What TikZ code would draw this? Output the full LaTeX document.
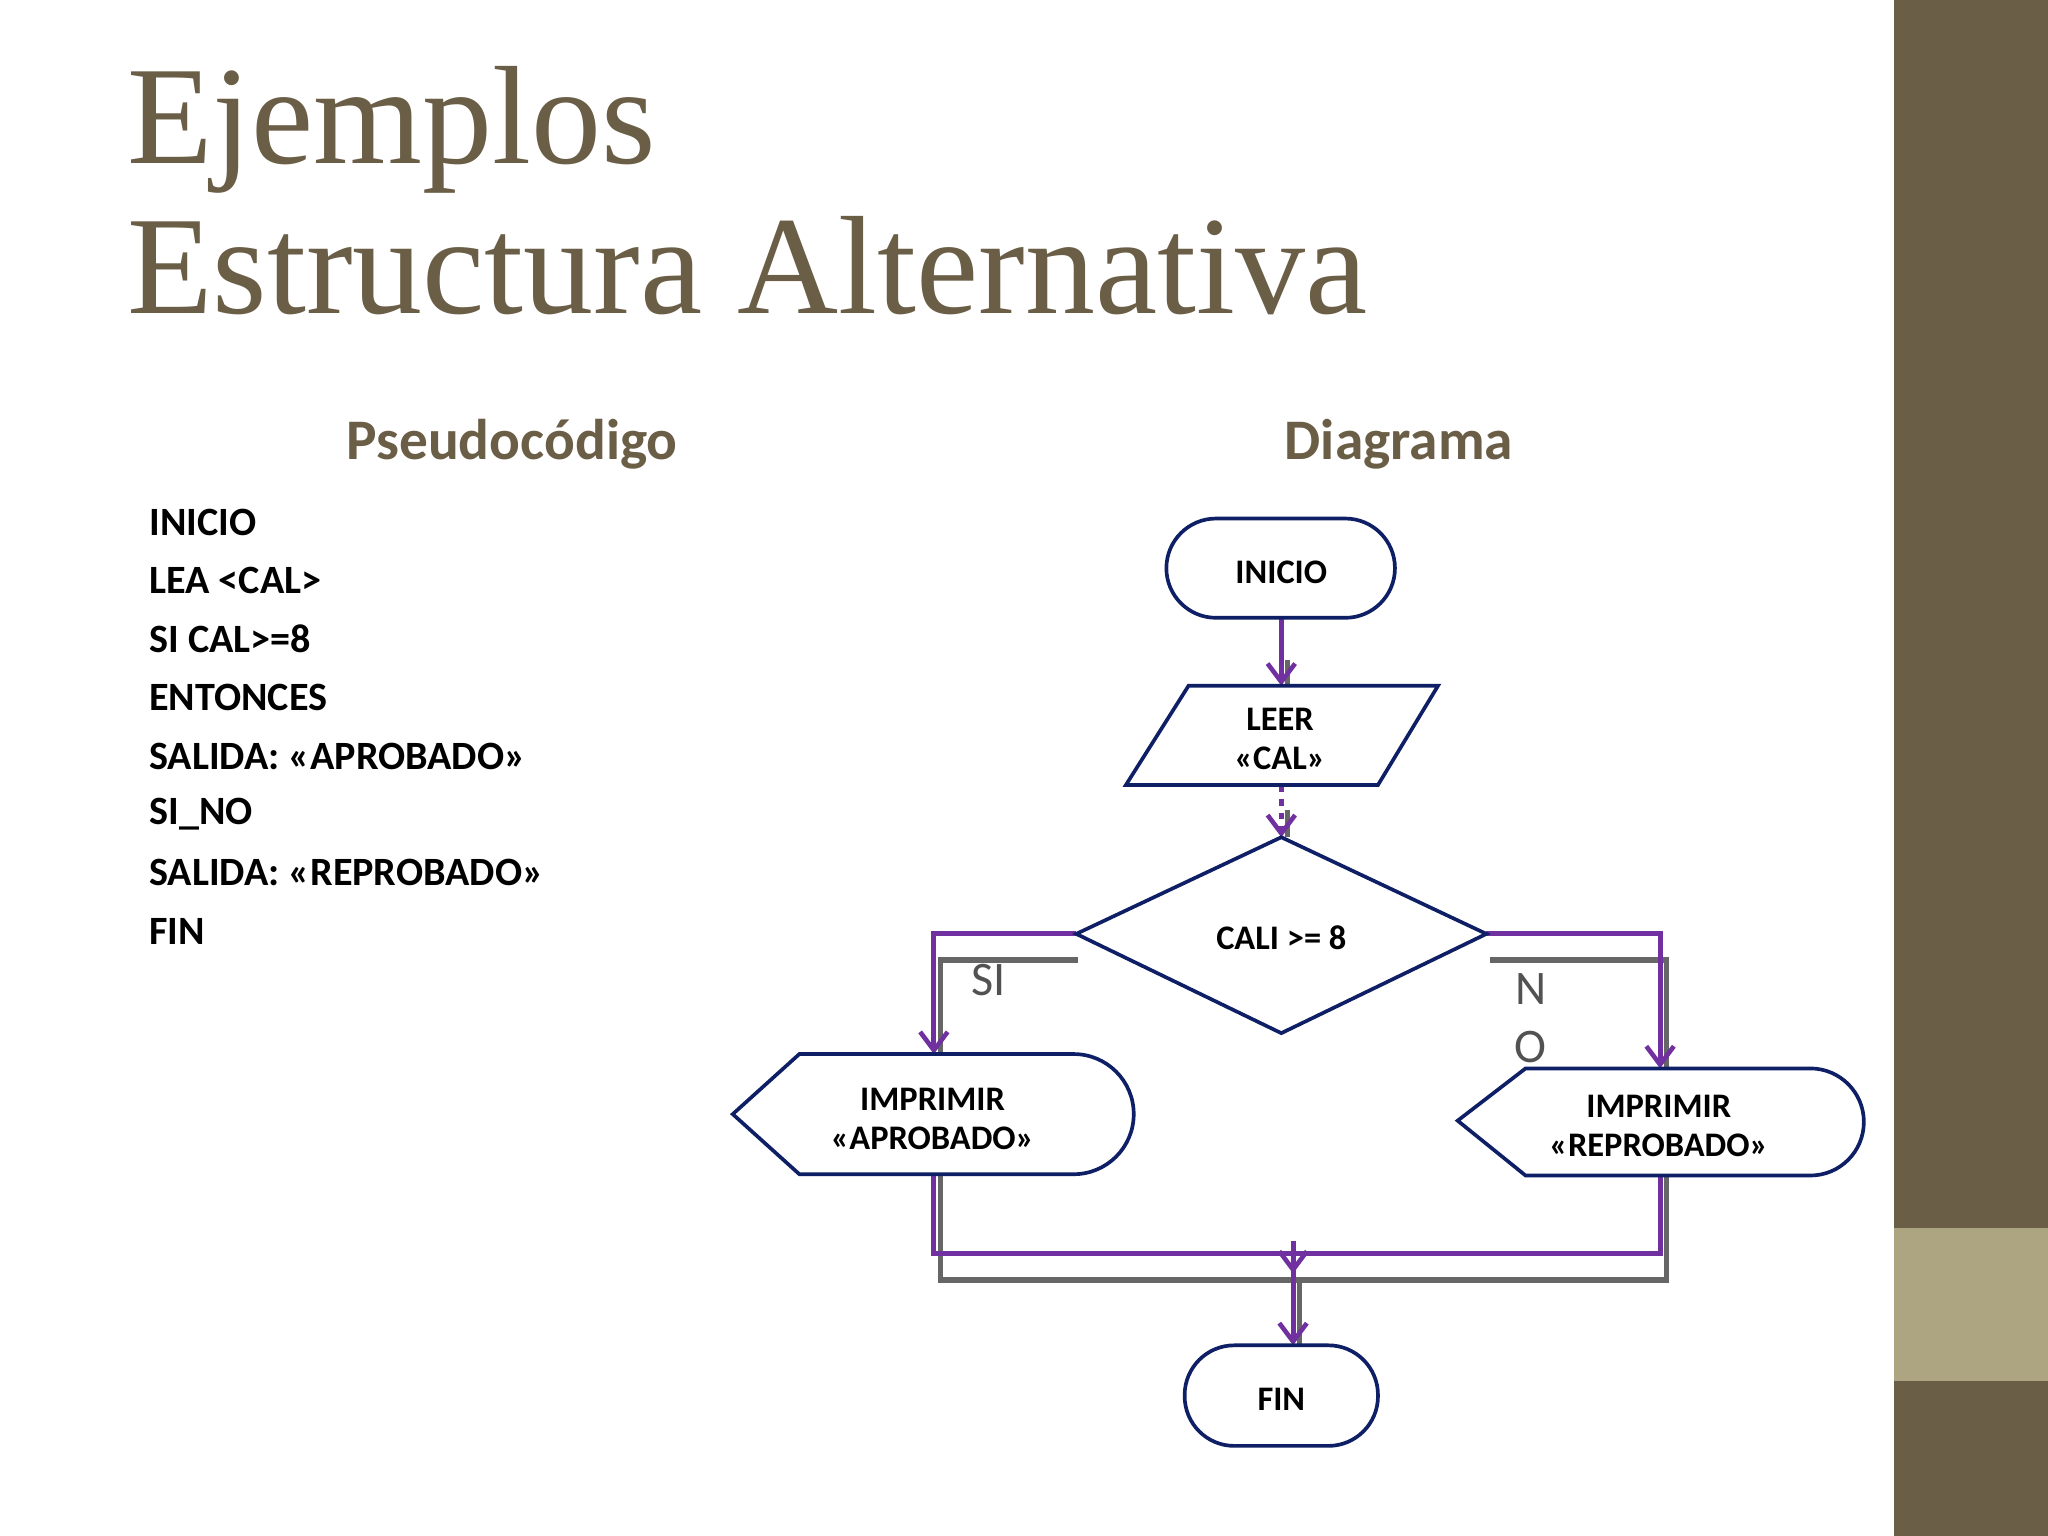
\documentclass[tikz,border=0pt]{standalone}
\usepackage{fontspec}
\setmainfont{Carlito}
\newfontfamily\titlefont{Liberation Serif}
\usetikzlibrary{arrows.meta}
\definecolor{brn}{HTML}{6B5E47}
\definecolor{brnl}{HTML}{ADA582}
\definecolor{pur}{HTML}{7030A0}
\definecolor{nav}{HTML}{0F1F66}
\definecolor{gry}{HTML}{666666}
\tikzset{
  shp/.style={draw=nav,line width=1.6pt,fill=white},
  ntext/.style={font=\fontsize{15}{17}\selectfont\bfseries,align=center,text=black},
  pc/.style={anchor=west,font=\fontsize{17.5}{19}\selectfont\bfseries},
  head/.style={font=\fontsize{25}{28}\selectfont\bfseries,text=brn},
  pl/.style={draw=pur,line width=2.2pt},
  gl/.style={draw=gry,line width=2.2pt},
  parr/.style={pl,-{Straight Barb[length=8pt,width=12pt,line width=2pt]}},
}
\begin{document}
\begin{tikzpicture}[x=0.02cm,y=-0.02cm]
\useasboundingbox (0,0) rectangle (1568,1176);
\fill[white] (0,0) rectangle (1568,1176);
\fill[brn] (1450,0) rectangle (1568,1176);
\fill[brnl] (1450,940) rectangle (1568,1057);
% title
\node[anchor=base west,font=\titlefont\fontsize{61}{66}\selectfont,text=brn,inner xsep=0pt] (t1) at (97,125) {Ejemplos};
\node[anchor=base west,font=\titlefont\fontsize{61}{66}\selectfont,text=brn,inner xsep=0pt] (t2) at (97,240) {Estructura Alternativa};
\node[head] (h1) at (392,340) {Pseudocódigo};
\node[head] (h2) at (1071,340) {Diagrama};
\foreach \t [count=\i from 0] in {INICIO,LEA <CAL>,SI CAL>=8,ENTONCES,SALIDA: «APROBADO»,SI\_NO,SALIDA: «REPROBADO»,FIN}
  \node[pc,inner xsep=0pt] (p\i) at (114,400+44.7*\i) {\t};
% connectors (shadow then purple)
\coordinate (a1) at (981,473); \coordinate (a2) at (981,525);
\coordinate (b1) at (981,601); \coordinate (b2) at (981,641);
\draw[gl] (986,505) -- (986,525);
\draw[parr] (a1) -- (a2);
\draw[gl] (986,620) -- (986,641);
\draw[parr,dashed] (b1) -- (b2);
\coordinate (dl) at (824,715); \coordinate (dr) at (1138,715);
\coordinate (ap) at (715,807); \coordinate (rp) at (1271,818);
\draw[gl] (825,735) -- (720,735) -- (720,807);
\draw[gl] (1141,735) -- (1276,735) -- (1276,818);
\draw[parr] (dl) -- (715,715) -- (ap);
\draw[parr] (dr) -- (1271,715) -- (rp);
\coordinate (ab) at (715,899); \coordinate (rb) at (1271,900);
\coordinate (fn) at (990,1030);
\draw[gl] (720,899) -- (720,980) -- (1276,980) -- (1276,900);
\draw[gl] (995,980) -- (995,1030);
\draw[pl] (ab) -- (715,960) -- (1271,960) -- (rb);
\draw[parr] (990,950) -- (990,975);
\draw[parr] (990,960) -- (fn);
\node[font=\fontsize{21}{24}\selectfont,text=gry!80!black] (si) at (757,750) {SI};
\node[font=\fontsize{21}{24}\selectfont,text=gry!80!black] (n1) at (1172,757) {N};
\node[font=\fontsize{21}{24}\selectfont,text=gry!80!black] (n2) at (1172,802) {O};
% shapes
\draw[shp,rounded corners=0.76cm] (893,397) rectangle (1068,473);
\node[ntext] (ini) at (981,438) {INICIO};
\draw[shp] (910,525) -- (1101,525) -- (1055,601) -- (862,601) -- cycle;
\node[ntext] (leer) at (980,566) {LEER\\«CAL»};
\draw[shp] (824,715) -- (981,641) -- (1138,715) -- (981,791) -- cycle;
\node[ntext] (dec) at (981,718) {CALI >= 8};
\draw[shp] (561,853) -- (612,807) -- (822,807) arc[start angle=-90,end angle=90,x radius=46,y radius=46] -- (612,899) -- cycle;
\node[ntext] (apr) at (714,857) {IMPRIMIR\\«APROBADO»};
\draw[shp] (1116,858) -- (1168,818) -- (1386,818) arc[start angle=-90,end angle=90,x radius=41,y radius=41] -- (1168,900) -- cycle;
\node[ntext] (rep) at (1270,862) {IMPRIMIR\\«REPROBADO»};
\draw[shp,rounded corners=0.76cm] (907,1030) rectangle (1055,1107);
\node[ntext] (fin) at (981,1071) {FIN};
\end{tikzpicture}
\end{document}
